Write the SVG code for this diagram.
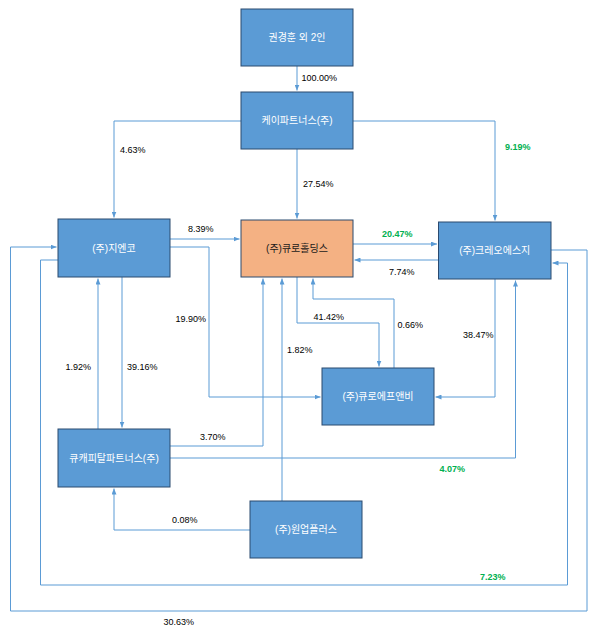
<svg xmlns="http://www.w3.org/2000/svg" width="597" height="636" viewBox="0 0 597 636">
<style>
.box{fill:#5B9BD5;stroke:#2B4A6F;stroke-width:1}
.hold{fill:#F4B183;stroke:#2B4A6F;stroke-width:1}
.bt{font-family:"Liberation Sans","Noto Sans CJK KR",sans-serif;font-size:10px;fill:#FFFFFF;text-anchor:middle;dominant-baseline:central}
.ht{font-family:"Liberation Sans","Noto Sans CJK KR",sans-serif;font-size:10px;fill:#1A1A1A;text-anchor:middle;dominant-baseline:central}
.lb{font-family:"Liberation Sans",sans-serif;font-size:9px;fill:#000000;dominant-baseline:central}
.gl{font-family:"Liberation Sans",sans-serif;font-size:9px;fill:#00B050;font-weight:bold;dominant-baseline:central}
.c{fill:none;stroke:#5B9BD5;stroke-width:1;marker-end:url(#ah)}
</style>
<defs>
<marker id="ah" viewBox="0 0 6 5" refX="6" refY="2.5" markerWidth="6" markerHeight="5" markerUnits="userSpaceOnUse" orient="auto">
<path d="M0,0 L6,2.5 L0,5 z" fill="#5B9BD5"/>
</marker>
</defs>
<rect width="597" height="636" fill="#FFFFFF"/>
<g id="connectors">
<path class="c" d="M297,66 V90.5"/>
<path class="c" d="M241,121 H114 V217.5"/>
<path class="c" d="M297,149 V218.5"/>
<path class="c" d="M353,121 H495 V220.5"/>
<path class="c" d="M170,239 H239.5"/>
<path class="c" d="M353,244 H437"/>
<path class="c" d="M438.5,260 H354.5"/>
<path class="c" d="M170,247 H209 V397 H320.5"/>
<path class="c" d="M122,277 V427.5"/>
<path class="c" d="M98,429 V278.5"/>
<path class="c" d="M297,277 V323 H379 V366.5"/>
<path class="c" d="M394,368 V299 H313 V278.5"/>
<path class="c" d="M495,279 V397 H435.5"/>
<path class="c" d="M170,458 H515.5 V280.5"/>
<path class="c" d="M170,446 H263 V278.5"/>
<path class="c" d="M282,501 V278.5"/>
<path class="c" d="M250,530 H114 V488.5"/>
<path class="c" d="M58,260 H40.5 V585 H567.5 V263 H552.5"/>
<path class="c" d="M551,250 H587 V611 H10.5 V247 H56.5"/>
</g>
<g id="labels">
<text class="lb" x="301.5" y="78">100.00%</text>
<text class="lb" x="120" y="150">4.63%</text>
<text class="gl" x="505" y="147">9.19%</text>
<text class="lb" x="303" y="184">27.54%</text>
<text class="lb" x="188" y="229">8.39%</text>
<text class="gl" x="382" y="234">20.47%</text>
<text class="lb" x="389" y="272">7.74%</text>
<text class="lb" x="175.5" y="319">19.90%</text>
<text class="lb" x="313.5" y="317">41.42%</text>
<text class="lb" x="397.5" y="325">0.66%</text>
<text class="lb" x="463" y="335">38.47%</text>
<text class="lb" x="287" y="350">1.82%</text>
<text class="lb" x="65.5" y="367">1.92%</text>
<text class="lb" x="127" y="367">39.16%</text>
<text class="lb" x="200" y="437">3.70%</text>
<text class="gl" x="439.5" y="469">4.07%</text>
<text class="lb" x="172" y="520">0.08%</text>
<text class="gl" x="480" y="577">7.23%</text>
<text class="lb" x="163.5" y="622">30.63%</text>
</g>
<g id="node-kwon"><rect class="box" x="241" y="9" width="112" height="57"/><text class="bt" x="297" y="37.5">권경훈 외 2인</text></g>
<g id="node-kpartners"><rect class="box" x="241" y="92" width="112" height="57"/><text class="bt" x="297" y="120.5">케이파트너스(주)</text></g>
<g id="node-genco"><rect class="box" x="58" y="219" width="112" height="58"/><text class="bt" x="114" y="248">(주)지엔코</text></g>
<g id="node-curoholdings"><rect class="hold" x="241" y="220" width="112" height="57"/><text class="ht" x="297" y="248.5">(주)큐로홀딩스</text></g>
<g id="node-creo"><rect class="box" x="438.5" y="222" width="112.5" height="57"/><text class="bt" x="494.75" y="250.5">(주)크레오에스지</text></g>
<g id="node-curofnb"><rect class="box" x="322" y="368" width="112" height="57"/><text class="bt" x="378" y="396.5">(주)큐로에프앤비</text></g>
<g id="node-qcapital"><rect class="box" x="58" y="429" width="112" height="58"/><text class="bt" x="114" y="458">큐캐피탈파트너스(주)</text></g>
<g id="node-wonup"><rect class="box" x="250" y="501" width="112" height="57"/><text class="bt" x="306" y="529.5">(주)원업플러스</text></g>
</svg>
